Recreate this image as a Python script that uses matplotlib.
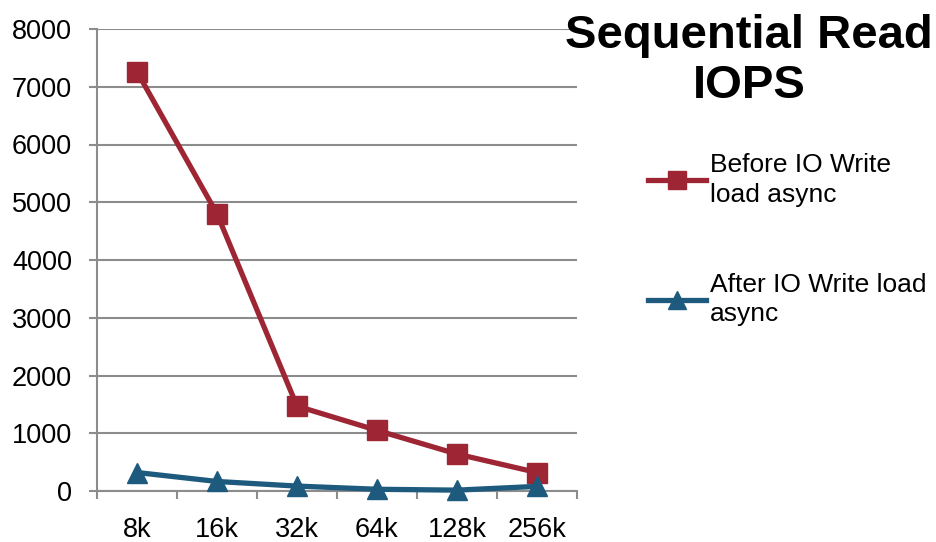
import matplotlib
matplotlib.use('Agg')
import matplotlib.pyplot as plt

plt.rcParams['font.family'] = ['Liberation Sans', 'DejaVu Sans']

block_sizes = ['8k', '16k', '32k', '64k', '128k', '256k']
before_iops = [7260, 4800, 1470, 1050, 640, 320]
after_iops = [320, 165, 85, 30, 15, 80]

red = '#9e2634'
blue = '#1d5a7e'
grid_grey = '#8c8c8c'

fig = plt.figure(figsize=(9.37, 5.42), dpi=100)
ax = fig.add_axes([97 / 937, 1 - 491 / 542, 480 / 937, 462 / 542])

x = list(range(len(block_sizes)))
ax.plot(x, before_iops, color=red, lw=3.8, marker='s', ms=14,
        label='Before IO Write\nload async', zorder=3)
ax.plot(x, after_iops, color=blue, lw=3.8, marker='^', ms=14,
        label='After IO Write load\nasync', zorder=3)

ax.set_xlim(-0.5, len(block_sizes) - 0.5)
ax.set_ylim(0, 8000)
ax.set_yticks(range(0, 8001, 1000))
ax.yaxis.grid(True, color=grid_grey, lw=1.5)
ax.set_axisbelow(True)

# category labels between the boundary tick marks
ax.set_xticks([i - 0.5 for i in range(len(block_sizes) + 1)])
ax.set_xticklabels([])
ax.set_xticks(x, minor=True)
ax.set_xticklabels(block_sizes, minor=True)
ax.tick_params(axis='x', which='major', length=6, width=1.5, color=grid_grey, direction='out')
ax.tick_params(axis='x', which='minor', length=0, pad=19, labelsize=19.5)
ax.tick_params(axis='y', length=6, width=1.5, color=grid_grey, labelsize=19.5, pad=12)

for side in ['top', 'right']:
    ax.spines[side].set_visible(False)
for side in ['left', 'bottom']:
    ax.spines[side].set_color(grid_grey)
    ax.spines[side].set_linewidth(1.5)
for line in ax.lines:
    line.set_clip_on(False)

fig.text(749 / 937, 1 - 61 / 542, 'Sequential Read\nIOPS', ha='center', va='center',
         fontsize=34, fontweight='bold', linespacing=1.17)

leg = fig.legend(loc='upper left', bbox_to_anchor=(648 / 937, 1 - 153 / 542),
                 frameon=False, fontsize=19, handlelength=2.2, handletextpad=0.15,
                 labelspacing=2.5, markerscale=0.95, borderaxespad=0, borderpad=0)
for text in leg.get_texts():
    text.set_linespacing(1.3)

fig.savefig('out.png', dpi=100)
